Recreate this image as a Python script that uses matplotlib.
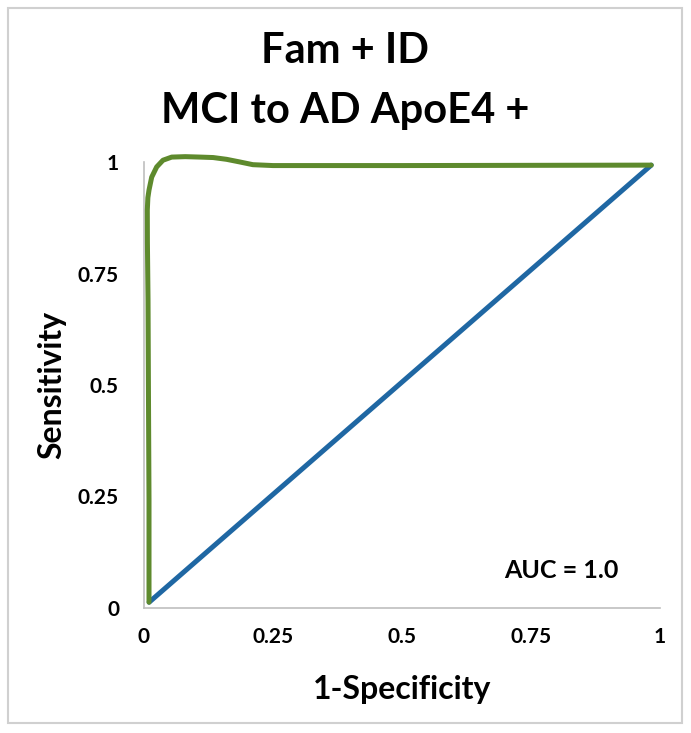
import matplotlib
matplotlib.use("Agg")
import matplotlib.pyplot as plt
from matplotlib.patches import Rectangle

# Data
ref_x = [0.01, 0.983]
ref_y = [0.013, 0.993]
roc_x = [0.0097, 0.0097, 0.0087, 0.0078, 0.0066, 0.0064, 0.0075, 0.0097, 0.0149, 0.0246,
         0.0368, 0.0537, 0.08, 0.109, 0.134, 0.16, 0.186, 0.211, 0.25, 0.5, 0.983]
roc_y = [0.013, 0.242, 0.466, 0.69, 0.82, 0.892, 0.92, 0.937, 0.966, 0.989,
         1.004, 1.011, 1.012, 1.011, 1.010, 1.006, 1.0, 0.994, 0.992, 0.992, 0.993]
ticks = [0, 0.25, 0.5, 0.75, 1]
tick_labels = ["0", "0.25", "0.5", "0.75", "1"]
title = "Fam + ID\nMCI to AD ApoE4 +"
xlabel = "1-Specificity"
ylabel = "Sensitivity"
auc_text = "AUC = 1.0"

W, H = 691, 733
fig = plt.figure(figsize=(W / 100, H / 100), dpi=100)
fig.patch.set_facecolor("white")
plt.rcParams["font.family"] = ["Lato", "DejaVu Sans"]

# outer chart border
fig.patches.append(Rectangle((8 / W, 1 - 723 / H), (682 - 8) / W, (723 - 8) / H,
                             transform=fig.transFigure, fill=False,
                             edgecolor="#D0D0D0", linewidth=1.5))

ax = fig.add_axes([144 / W, 1 - 608 / H, 516 / W, 446 / H])
ax.set_xlim(0, 1)
ax.set_ylim(0, 1)
for s in ["top", "right"]:
    ax.spines[s].set_visible(False)
for s in ["left", "bottom"]:
    ax.spines[s].set_color("#BFBFBF")
    ax.spines[s].set_linewidth(1.2)

ax.plot(ref_x, ref_y, color="#1F67A3", linewidth=3.6, solid_capstyle="round", clip_on=False, zorder=3)
ax.plot(roc_x, roc_y, color="#5E8A2D", linewidth=3.6, solid_capstyle="round",
        solid_joinstyle="round", clip_on=False, zorder=4)

ax.set_xticks(ticks)
ax.set_xticklabels(tick_labels)
ax.set_yticks(ticks)
ax.set_yticklabels(tick_labels)
ax.tick_params(axis="both", length=0, labelsize=15)
ax.tick_params(axis="x", pad=14)
ax.tick_params(axis="y", pad=18)
for lab in ax.get_xticklabels() + ax.get_yticklabels():
    lab.set_fontweight("bold")

ax.set_xlabel(xlabel, fontsize=23, fontweight="bold", labelpad=20)
ax.set_ylabel(ylabel, fontsize=23, fontweight="bold", labelpad=8)

ax.text(0.92, 0.085, auc_text, transform=ax.transAxes, ha="right", va="center",
        fontsize=18, fontweight="bold")

fig.text(345 / W, 1 - 81 / H, title, ha="center", va="center", fontsize=30,
         fontweight="bold", linespacing=1.68)

fig.savefig("out.png", dpi=100)
